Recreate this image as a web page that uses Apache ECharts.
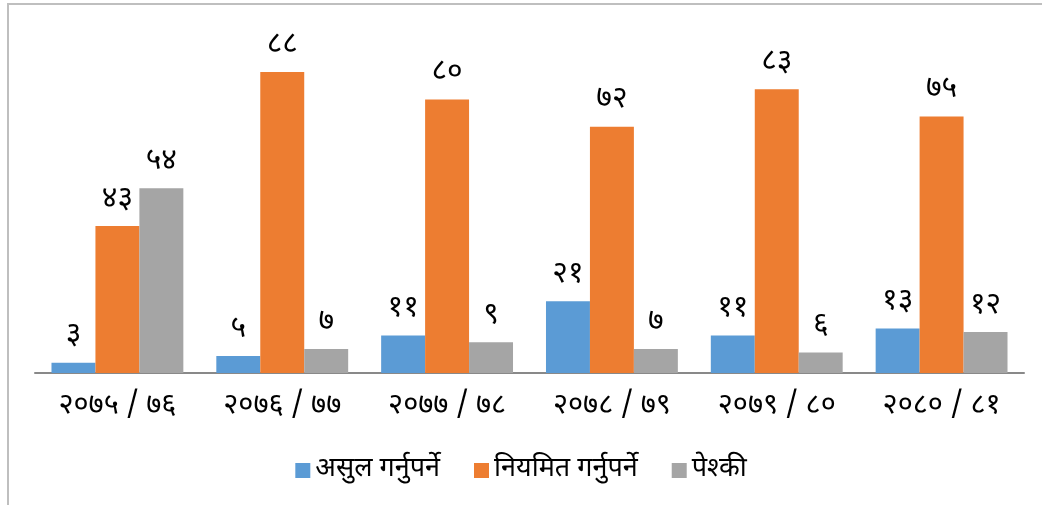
<!DOCTYPE html>
<html>
<head>
<meta charset="utf-8">
<script src="https://cdn.jsdelivr.net/npm/echarts@6/dist/echarts.min.js"></script>
<style>
  html, body { margin: 0; padding: 0; background: #fff; }
  #frame {
    position: absolute; left: 7px; top: 3px; width: 1040px; height: 510px;
    border-top: 2px solid #bfbfbf; border-left: 2px solid #bfbfbf;
  }
  #chart { position: absolute; left: 0; top: 0; width: 1042px; height: 505px; }
</style>
</head>
<body>
<div id="frame"></div>
<div id="chart"></div>
<script>
// आर्थिक वर्ष
const categories = ['२०७५ / ७६', '२०७६ / ७७', '२०७७ / ७८', '२०७८ / ७९', '२०७९ / ८०', '२०८० / ८१']
const seriesNames = ['असुल गर्नुपर्ने', 'नियमित गर्नुपर्ने', 'पेश्की']
const asulValues = [3, 5, 11, 21, 11, 13]
const niyamitValues = [43, 88, 80, 72, 83, 75]
const peshkiValues = [54, 7, 9, 7, 6, 12]
const colors = ['#5B9BD5', '#ED7D31', '#A5A5A5']

const devDigits = '०१२३४५६७८९'
function toDev(n) {
  return String(n).replace(/[0-9]/g, d => devDigits[+d])
}

const fontFamily = '"Noto Sans Devanagari", "Noto Sans", "Lohit Devanagari", sans-serif'

const chart = echarts.init(document.getElementById('chart'))
const dataArr = [asulValues, niyamitValues, peshkiValues]

chart.setOption({
  animation: false,
  textStyle: { fontFamily: fontFamily },
  grid: { left: 35, right: 18, top: 31, bottom: 132 },
  legend: {
    bottom: 16,
    left: 'center',
    itemWidth: 15,
    itemHeight: 15,
    itemGap: 34,
    icon: 'rect',
    textStyle: { fontSize: 27, color: '#000', fontFamily: fontFamily },
    data: seriesNames
  },
  xAxis: {
    type: 'category',
    data: categories,
    axisTick: { show: false },
    axisLine: { lineStyle: { color: '#898989', width: 2 } },
    axisLabel: { fontSize: 29, color: '#000', margin: 20, fontFamily: fontFamily }
  },
  yAxis: {
    type: 'value',
    min: 0,
    max: 100,
    show: false,
    splitLine: { show: false }
  },
  series: seriesNames.map((name, i) => ({
    name: name,
    type: 'bar',
    data: dataArr[i],
    barGap: '0%',
    barCategoryGap: '20%',
    itemStyle: { color: colors[i] },
    label: {
      show: true,
      position: 'top',
      distance: 10,
      fontSize: 30,
      color: '#000',
      fontFamily: fontFamily,
      formatter: p => toDev(p.value)
    }
  }))
})
</script>
</body>
</html>
